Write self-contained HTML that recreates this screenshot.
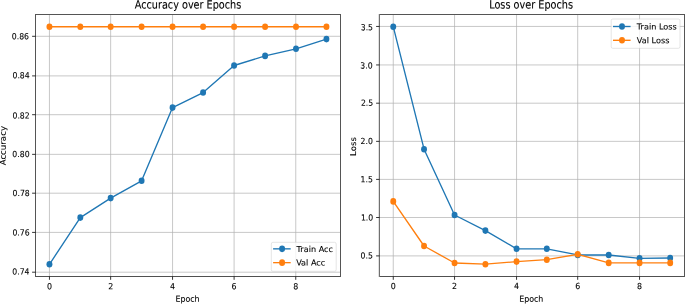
<!DOCTYPE html>
<html><head><meta charset="utf-8"><title>Training curves</title>
<style>
html,body{margin:0;padding:0;background:#fff;}
svg{display:block;stroke-linejoin:round;font-family:"DejaVu Sans","Liberation Sans",sans-serif;fill:#000;}
</style></head><body>
<svg width="685" height="304" viewBox="0 0 685 304">
<rect width="685" height="304" fill="#fff"/>
<path d="M49.45 14.5V276.5M110.65 14.5V276.5M172.55 14.5V276.5M234.10 14.5V276.5M295.75 14.5V276.5M35.5 272.20H340.5M35.5 232.40H340.5M35.5 193.20H340.5M35.5 154.35H340.5M35.5 114.70H340.5M35.5 75.90H340.5M35.5 36.30H340.5" stroke="#b0b0b0" stroke-width="0.7" fill="none"/>
<polyline points="49.45,264.30 80.30,217.60 110.65,198.10 141.60,180.80 172.55,107.60 203.10,92.55 234.10,65.50 265.10,55.90 296.00,48.80 326.45,39.10" fill="none" stroke="#1f77b4" stroke-width="1.35" stroke-linejoin="round"/>
<ellipse cx="49.45" cy="264.30" rx="2.95" ry="3.3" fill="#1f77b4"/>
<ellipse cx="80.30" cy="217.60" rx="2.95" ry="3.3" fill="#1f77b4"/>
<ellipse cx="110.65" cy="198.10" rx="2.95" ry="3.3" fill="#1f77b4"/>
<ellipse cx="141.60" cy="180.80" rx="2.95" ry="3.3" fill="#1f77b4"/>
<ellipse cx="172.55" cy="107.60" rx="2.95" ry="3.3" fill="#1f77b4"/>
<ellipse cx="203.10" cy="92.55" rx="2.95" ry="3.3" fill="#1f77b4"/>
<ellipse cx="234.10" cy="65.50" rx="2.95" ry="3.3" fill="#1f77b4"/>
<ellipse cx="265.10" cy="55.90" rx="2.95" ry="3.3" fill="#1f77b4"/>
<ellipse cx="296.00" cy="48.80" rx="2.95" ry="3.3" fill="#1f77b4"/>
<ellipse cx="326.45" cy="39.10" rx="2.95" ry="3.3" fill="#1f77b4"/>
<polyline points="49.45,26.75 80.30,26.75 110.65,26.75 141.60,26.75 172.55,26.75 203.10,26.75 234.10,26.75 265.10,26.75 296.00,26.75 326.45,26.75" fill="none" stroke="#ff7f0e" stroke-width="1.35" stroke-linejoin="round"/>
<ellipse cx="49.45" cy="26.75" rx="2.95" ry="3.3" fill="#ff7f0e"/>
<ellipse cx="80.30" cy="26.75" rx="2.95" ry="3.3" fill="#ff7f0e"/>
<ellipse cx="110.65" cy="26.75" rx="2.95" ry="3.3" fill="#ff7f0e"/>
<ellipse cx="141.60" cy="26.75" rx="2.95" ry="3.3" fill="#ff7f0e"/>
<ellipse cx="172.55" cy="26.75" rx="2.95" ry="3.3" fill="#ff7f0e"/>
<ellipse cx="203.10" cy="26.75" rx="2.95" ry="3.3" fill="#ff7f0e"/>
<ellipse cx="234.10" cy="26.75" rx="2.95" ry="3.3" fill="#ff7f0e"/>
<ellipse cx="265.10" cy="26.75" rx="2.95" ry="3.3" fill="#ff7f0e"/>
<ellipse cx="296.00" cy="26.75" rx="2.95" ry="3.3" fill="#ff7f0e"/>
<ellipse cx="326.45" cy="26.75" rx="2.95" ry="3.3" fill="#ff7f0e"/>
<g shape-rendering="crispEdges"><rect x="35" y="14" width="306" height="1" fill="#555"/><rect x="35" y="276" width="306" height="1" fill="#505050"/><rect x="35" y="14" width="1" height="263" fill="#555"/><rect x="340" y="14" width="1" height="263" fill="#555"/></g>
<path d="M49.45 276.5v3.3M110.65 276.5v3.3M172.55 276.5v3.3M234.10 276.5v3.3M295.75 276.5v3.3M35.5 272.20h-3.4M35.5 232.40h-3.4M35.5 193.20h-3.4M35.5 154.35h-3.4M35.5 114.70h-3.4M35.5 75.90h-3.4M35.5 36.30h-3.4" stroke="#000" stroke-width="0.8" fill="none"/>
<text transform="translate(49.45,289.30) rotate(0.04) scale(1,1.065)" font-size="7.9" text-anchor="middle" stroke="#000" stroke-width="0.1">0</text>
<text transform="translate(110.65,289.30) rotate(0.04) scale(1,1.065)" font-size="7.9" text-anchor="middle" stroke="#000" stroke-width="0.1">2</text>
<text transform="translate(172.55,289.30) rotate(0.04) scale(1,1.065)" font-size="7.9" text-anchor="middle" stroke="#000" stroke-width="0.1">4</text>
<text transform="translate(234.10,289.30) rotate(0.04) scale(1,1.065)" font-size="7.9" text-anchor="middle" stroke="#000" stroke-width="0.1">6</text>
<text transform="translate(295.75,289.30) rotate(0.04) scale(1,1.065)" font-size="7.9" text-anchor="middle" stroke="#000" stroke-width="0.1">8</text>
<text transform="translate(29.49,274.45) rotate(0.04) scale(1,1.09)" font-size="7.73" text-anchor="end" stroke="#000" stroke-width="0.1">0.74</text>
<text transform="translate(29.67,235.54) rotate(0.04) scale(1,1.09)" font-size="7.73" text-anchor="end" stroke="#000" stroke-width="0.1">0.76</text>
<text transform="translate(29.73,196.12) rotate(0.04) scale(1,1.09)" font-size="7.73" text-anchor="end" stroke="#000" stroke-width="0.1">0.78</text>
<text transform="translate(29.56,157.04) rotate(0.04) scale(1,1.09)" font-size="7.73" text-anchor="end" stroke="#000" stroke-width="0.1">0.80</text>
<text transform="translate(29.70,118.39) rotate(0.04) scale(1,1.09)" font-size="7.73" text-anchor="end" stroke="#000" stroke-width="0.1">0.82</text>
<text transform="translate(29.68,78.24) rotate(0.04) scale(1,1.09)" font-size="7.73" text-anchor="end" stroke="#000" stroke-width="0.1">0.84</text>
<text transform="translate(28.99,39.18) rotate(0.04) scale(1,1.09)" font-size="7.73" text-anchor="end" stroke="#000" stroke-width="0.1">0.86</text>
<text transform="translate(188.00,8.50) rotate(0.04) scale(1,1.18)" font-size="9.69" text-anchor="middle" stroke="#000" stroke-width="0.1">Accuracy over Epochs</text>
<text transform="translate(187.55,301.70) rotate(0.04) scale(1,1.065)" font-size="7.88" text-anchor="middle" stroke="#000" stroke-width="0.1">Epoch</text>
<text transform="translate(5.65,145.70) rotate(-90.04) scale(1.065,1)" font-size="8.1" text-anchor="middle" stroke="#000" stroke-width="0.1">Accuracy</text>
<rect x="271.3" y="242.3" width="64.90" height="29.00" rx="1.6" ry="1.7" fill="#fff" fill-opacity="0.8" stroke="#ccc" stroke-opacity="0.8" stroke-width="0.65"/>
<path d="M273.10 248.85H290.70" stroke="#1f77b4" stroke-width="1.35"/>
<ellipse cx="282.10" cy="248.85" rx="2.95" ry="3.3" fill="#1f77b4"/>
<text transform="translate(296.60,251.90) rotate(0.04) scale(1,1.0)" font-size="8.12" text-anchor="start" stroke="#000" stroke-width="0.1">Train Acc</text>
<path d="M273.10 262.65H290.70" stroke="#ff7f0e" stroke-width="1.35"/>
<ellipse cx="282.10" cy="262.65" rx="2.95" ry="3.3" fill="#ff7f0e"/>
<text transform="translate(296.20,265.60) rotate(0.04) scale(1,1.0)" font-size="8.12" text-anchor="start" stroke="#000" stroke-width="0.1">Val Acc</text>
<path d="M393.25 14.5V276.5M454.55 14.5V276.5M516.55 14.5V276.5M577.70 14.5V276.5M639.55 14.5V276.5M379.5 255.90H684.5M379.5 217.50H684.5M379.5 179.40H684.5M379.5 141.35H684.5M379.5 103.20H684.5M379.5 64.95H684.5M379.5 26.45H684.5" stroke="#b0b0b0" stroke-width="0.7" fill="none"/>
<polyline points="393.25,26.70 424.05,149.20 454.55,215.00 485.40,230.60 516.55,248.80 546.80,248.80 577.70,254.95 608.70,255.00 639.55,258.30 670.20,258.00" fill="none" stroke="#1f77b4" stroke-width="1.35" stroke-linejoin="round"/>
<ellipse cx="393.25" cy="26.70" rx="2.95" ry="3.3" fill="#1f77b4"/>
<ellipse cx="424.05" cy="149.20" rx="2.95" ry="3.3" fill="#1f77b4"/>
<ellipse cx="454.55" cy="215.00" rx="2.95" ry="3.3" fill="#1f77b4"/>
<ellipse cx="485.40" cy="230.60" rx="2.95" ry="3.3" fill="#1f77b4"/>
<ellipse cx="516.55" cy="248.80" rx="2.95" ry="3.3" fill="#1f77b4"/>
<ellipse cx="546.80" cy="248.80" rx="2.95" ry="3.3" fill="#1f77b4"/>
<ellipse cx="577.70" cy="254.95" rx="2.95" ry="3.3" fill="#1f77b4"/>
<ellipse cx="608.70" cy="255.00" rx="2.95" ry="3.3" fill="#1f77b4"/>
<ellipse cx="639.55" cy="258.30" rx="2.95" ry="3.3" fill="#1f77b4"/>
<ellipse cx="670.20" cy="258.00" rx="2.95" ry="3.3" fill="#1f77b4"/>
<polyline points="393.25,201.40 424.05,246.00 454.55,263.00 485.40,264.20 516.55,261.60 546.80,259.70 577.70,254.30 608.70,262.90 639.55,262.90 670.20,262.90" fill="none" stroke="#ff7f0e" stroke-width="1.35" stroke-linejoin="round"/>
<ellipse cx="393.25" cy="201.40" rx="2.95" ry="3.3" fill="#ff7f0e"/>
<ellipse cx="424.05" cy="246.00" rx="2.95" ry="3.3" fill="#ff7f0e"/>
<ellipse cx="454.55" cy="263.00" rx="2.95" ry="3.3" fill="#ff7f0e"/>
<ellipse cx="485.40" cy="264.20" rx="2.95" ry="3.3" fill="#ff7f0e"/>
<ellipse cx="516.55" cy="261.60" rx="2.95" ry="3.3" fill="#ff7f0e"/>
<ellipse cx="546.80" cy="259.70" rx="2.95" ry="3.3" fill="#ff7f0e"/>
<ellipse cx="577.70" cy="254.30" rx="2.95" ry="3.3" fill="#ff7f0e"/>
<ellipse cx="608.70" cy="262.90" rx="2.95" ry="3.3" fill="#ff7f0e"/>
<ellipse cx="639.55" cy="262.90" rx="2.95" ry="3.3" fill="#ff7f0e"/>
<ellipse cx="670.20" cy="262.90" rx="2.95" ry="3.3" fill="#ff7f0e"/>
<g shape-rendering="crispEdges"><rect x="379" y="14" width="306" height="1" fill="#555"/><rect x="379" y="276" width="306" height="1" fill="#505050"/><rect x="379" y="14" width="1" height="263" fill="#707070"/><rect x="684" y="14" width="1" height="263" fill="#555"/><rect x="378" y="14" width="1" height="263" fill="#e0e0e0"/></g>
<path d="M393.25 276.5v3.3M454.55 276.5v3.3M516.55 276.5v3.3M577.70 276.5v3.3M639.55 276.5v3.3M379.5 255.90h-3.4M379.5 217.50h-3.4M379.5 179.40h-3.4M379.5 141.35h-3.4M379.5 103.20h-3.4M379.5 64.95h-3.4M379.5 26.45h-3.4" stroke="#000" stroke-width="0.8" fill="none"/>
<text transform="translate(393.25,288.95) rotate(0.04) scale(1,1.065)" font-size="7.9" text-anchor="middle" stroke="#000" stroke-width="0.1">0</text>
<text transform="translate(454.55,288.95) rotate(0.04) scale(1,1.065)" font-size="7.9" text-anchor="middle" stroke="#000" stroke-width="0.1">2</text>
<text transform="translate(516.55,288.95) rotate(0.04) scale(1,1.065)" font-size="7.9" text-anchor="middle" stroke="#000" stroke-width="0.1">4</text>
<text transform="translate(577.70,288.95) rotate(0.04) scale(1,1.065)" font-size="7.9" text-anchor="middle" stroke="#000" stroke-width="0.1">6</text>
<text transform="translate(639.55,288.95) rotate(0.04) scale(1,1.065)" font-size="7.9" text-anchor="middle" stroke="#000" stroke-width="0.1">8</text>
<text transform="translate(372.91,258.46) rotate(0.04) scale(1,1.09)" font-size="7.73" text-anchor="end" stroke="#000" stroke-width="0.1">0.5</text>
<text transform="translate(373.22,220.39) rotate(0.04) scale(1,1.09)" font-size="7.73" text-anchor="end" stroke="#000" stroke-width="0.1">1.0</text>
<text transform="translate(372.89,182.28) rotate(0.04) scale(1,1.09)" font-size="7.73" text-anchor="end" stroke="#000" stroke-width="0.1">1.5</text>
<text transform="translate(372.88,143.98) rotate(0.04) scale(1,1.09)" font-size="7.73" text-anchor="end" stroke="#000" stroke-width="0.1">2.0</text>
<text transform="translate(373.21,105.67) rotate(0.04) scale(1,1.09)" font-size="7.73" text-anchor="end" stroke="#000" stroke-width="0.1">2.5</text>
<text transform="translate(372.63,68.49) rotate(0.04) scale(1,1.09)" font-size="7.73" text-anchor="end" stroke="#000" stroke-width="0.1">3.0</text>
<text transform="translate(373.01,30.20) rotate(0.04) scale(1,1.09)" font-size="7.73" text-anchor="end" stroke="#000" stroke-width="0.1">3.5</text>
<text transform="translate(531.10,8.50) rotate(0.04) scale(1,1.18)" font-size="9.71" text-anchor="middle" stroke="#000" stroke-width="0.1">Loss over Epochs</text>
<text transform="translate(531.25,301.70) rotate(0.04) scale(1,1.065)" font-size="7.88" text-anchor="middle" stroke="#000" stroke-width="0.1">Epoch</text>
<text transform="translate(356.10,146.50) rotate(-90.04) scale(1.065,1)" font-size="8.1" text-anchor="middle" stroke="#000" stroke-width="0.1">Loss</text>
<rect x="611.2" y="19.0" width="68.80" height="29.30" rx="1.6" ry="1.7" fill="#fff" fill-opacity="0.8" stroke="#ccc" stroke-opacity="0.8" stroke-width="0.65"/>
<path d="M613.00 26.50H630.60" stroke="#1f77b4" stroke-width="1.35"/>
<ellipse cx="622.00" cy="26.50" rx="2.95" ry="3.3" fill="#1f77b4"/>
<text transform="translate(636.85,29.45) rotate(0.04) scale(1,1.0)" font-size="8.12" text-anchor="start" stroke="#000" stroke-width="0.1">Train Loss</text>
<path d="M613.00 40.30H630.60" stroke="#ff7f0e" stroke-width="1.35"/>
<ellipse cx="622.00" cy="40.30" rx="2.95" ry="3.3" fill="#ff7f0e"/>
<text transform="translate(636.85,43.15) rotate(0.04) scale(1,1.0)" font-size="8.12" text-anchor="start" stroke="#000" stroke-width="0.1">Val Loss</text>
</svg>
</body></html>
